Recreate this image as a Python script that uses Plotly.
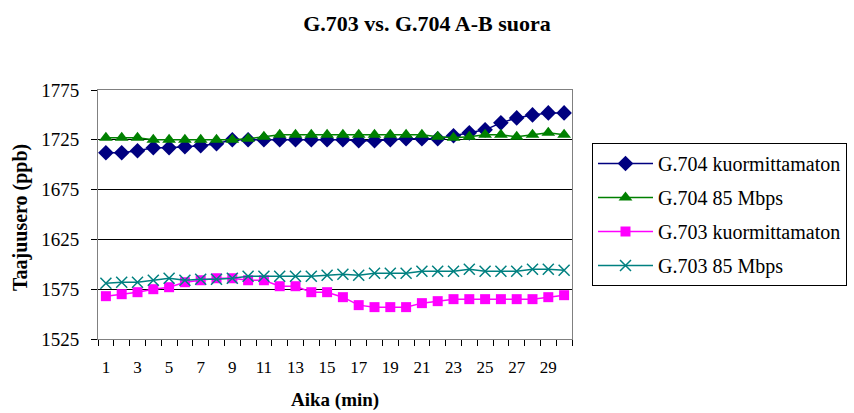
import plotly.graph_objects as go

minutes = list(range(1, 31))
g704_unloaded = [1712, 1712, 1714, 1717, 1717, 1718, 1719, 1721, 1725, 1725,
                 1725, 1725, 1725, 1725, 1725, 1725, 1724, 1724, 1725, 1726,
                 1726, 1726, 1729, 1732, 1735, 1742, 1747, 1750, 1752, 1752]
g704_85 = [1727, 1727, 1727, 1725, 1725, 1725, 1725, 1725, 1725, 1726,
           1728, 1730, 1730, 1730, 1730, 1730, 1730, 1730, 1730, 1730,
           1730, 1728, 1727, 1728, 1730, 1730, 1728, 1730, 1732, 1730]
g703_unloaded = [1568, 1570, 1572, 1575, 1577, 1582, 1584, 1586, 1586, 1584,
                 1584, 1578, 1578, 1572, 1572, 1567, 1559, 1557, 1557, 1557,
                 1561, 1563, 1565, 1565, 1565, 1565, 1565, 1565, 1567, 1569]
g703_85 = [1581, 1582, 1582, 1584, 1586, 1584, 1585, 1585, 1586, 1588,
           1588, 1588, 1588, 1588, 1589, 1590, 1589, 1591, 1591, 1591,
           1593, 1593, 1593, 1595, 1593, 1593, 1593, 1595, 1595, 1594]
y_ticks = [1525, 1575, 1625, 1675, 1725, 1775]
x_ticks = list(range(1, 31, 2))

FONT = "Liberation Serif"

series = [
    ("G.704 kuormittamaton", g704_unloaded, "#000080", "diamond", 12),
    ("G.704 85 Mbps", g704_85, "#008000", "triangle-up", 12),
    ("G.703 kuormittamaton", g703_unloaded, "#FF00FF", "square", 10),
    ("G.703 85 Mbps", g703_85, "#008080", "x-thin", 11),
]

fig = go.Figure()
for i, (name, vals, color, sym, size) in enumerate(series):
    marker = dict(symbol=sym, size=size, color=color)
    if sym == "x-thin":
        marker["line"] = dict(color=color, width=1.5)
    fig.add_trace(go.Scatter(
        x=minutes, y=vals, name=name, mode="lines+markers",
        line=dict(color=color, width=1.5), marker=marker,
        legendgroup=f"g{i}",
    ))

fig.update_layout(
    width=854, height=413,
    margin=dict(l=98, r=282, t=90, b=74, autoexpand=False),
    paper_bgcolor="white", plot_bgcolor="white",
    font=dict(family=FONT, color="black", size=17),
    title=dict(text="<b>G.703 vs. G.704 A-B suora</b>", x=0.5, xref="container",
               y=1 - 23 / 413, yref="container", xanchor="center", yanchor="middle",
               font=dict(family=FONT, size=22, color="black")),
    legend=dict(x=(592 - 98) / (854 - 98 - 282), y=(339 - 143) / 249,
                xanchor="left", yanchor="top",
                bordercolor="black", borderwidth=1, bgcolor="white",
                font=dict(family=FONT, size=20, color="black"),
                itemwidth=55,
                traceorder="grouped", tracegroupgap=5),
    showlegend=True,
    annotations=[
        dict(text="<b>Aika (min)</b>", xref="paper", yref="paper",
             x=0.5, y=(339 - 400) / 249, xanchor="center", yanchor="middle",
             showarrow=False, font=dict(family=FONT, size=19, color="black")),
        dict(text="<b>Taajuusero (ppb)</b>", xref="paper", yref="paper",
             x=(20 - 98) / 474, y=(339 - 218) / 249, xanchor="center", yanchor="middle",
             textangle=-90, showarrow=False,
             font=dict(family=FONT, size=20, color="black")),
    ],
)
fig.update_xaxes(
    range=[0.5, 30.5], tickmode="array", tickvals=x_ticks,
    ticks="", showgrid=False, zeroline=False,
    showline=True, linecolor="#808080", linewidth=1, mirror=True,
    tickfont=dict(family=FONT, size=17), ticklabelstandoff=13,
    minor=dict(tickmode="linear", tick0=0.5, dtick=1, ticks="outside",
               ticklen=6, tickcolor="black", showgrid=False),
)
fig.update_yaxes(
    range=[1525, 1775], tickmode="array", tickvals=y_ticks,
    ticks="outside", ticklen=6, tickcolor="black",
    showgrid=True, gridcolor="black", gridwidth=1, zeroline=False,
    showline=True, linecolor="#808080", linewidth=1, mirror=True,
    tickfont=dict(family=FONT, size=19), ticklabelstandoff=8,
)

fig.write_html("out.html")
